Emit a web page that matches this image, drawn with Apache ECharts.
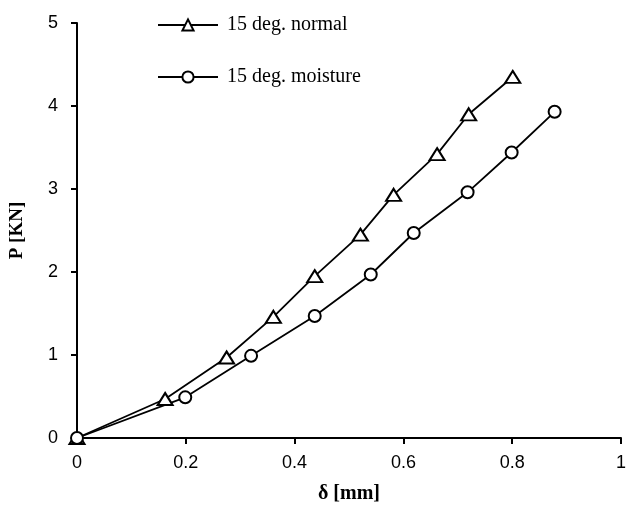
<!DOCTYPE html>
<html><head><meta charset="utf-8">
<script src="https://cdn.jsdelivr.net/npm/echarts@6/dist/echarts.min.js"></script>
<style>html,body{margin:0;padding:0;background:#fff}#c{width:629px;height:509px}</style>
</head><body><div id="c"></div>
<script>
const normalX = [0, 0.162, 0.275, 0.361, 0.437, 0.521, 0.582, 0.662, 0.720, 0.801];
const normalY = [0, 0.47, 0.97, 1.46, 1.95, 2.45, 2.93, 3.42, 3.90, 4.35];
const moistX = [0, 0.199, 0.320, 0.437, 0.540, 0.619, 0.718, 0.799, 0.878];
const moistY = [0, 0.49, 0.99, 1.47, 1.97, 2.47, 2.96, 3.44, 3.93];
const xTicks = [0, 0.2, 0.4, 0.6, 0.8, 1];
const yTicks = [0, 1, 2, 3, 4, 5];
const seriesNames = ['15 deg. normal', '15 deg. moisture'];

const pair = (xs, ys) => xs.map((x, i) => [x, ys[i]]);
const chart = echarts.init(document.getElementById('c'), null, {renderer: 'canvas'});
const axisCommon = {
  axisLine: {show: true, lineStyle: {color: '#000', width: 2}},
  axisTick: {show: true, inside: false, length: 6, lineStyle: {color: '#000', width: 2}},
  splitLine: {show: false},
  axisLabel: {color: '#000', fontFamily: 'Liberation Sans', fontSize: 18}
};
chart.setOption({
  animation: false,
  backgroundColor: '#fff',
  grid: {left: 77, right: 3, top: 23, bottom: 68, containLabel: false},
  legend: {
    orient: 'vertical', left: 152, top: 10, itemWidth: 60, itemHeight: 14, itemGap: 32,
    textStyle: {fontFamily: 'Liberation Serif', fontSize: 20, color: '#000', padding: [0, 0, 0, 4]},
    data: seriesNames
  },
  xAxis: Object.assign({}, axisCommon, {
    type: 'value', min: xTicks[0], max: xTicks[xTicks.length - 1], interval: 0.2,
    name: 'δ [mm]', nameLocation: 'middle', nameGap: 46,
    nameTextStyle: {fontFamily: 'Liberation Serif', fontWeight: 'bold', fontSize: 20, color: '#000'},
    axisLabel: Object.assign({}, axisCommon.axisLabel, {margin: 16, formatter: v => String(+v.toFixed(1))})
  }),
  yAxis: Object.assign({}, axisCommon, {
    type: 'value', min: yTicks[0], max: yTicks[yTicks.length - 1], interval: 1,
    name: 'P [KN]', nameLocation: 'middle', nameGap: 50, nameRotate: 90,
    nameTextStyle: {fontFamily: 'Liberation Serif', fontWeight: 'bold', fontSize: 19, color: '#000'},
    axisLabel: Object.assign({}, axisCommon.axisLabel, {margin: 19})
  }),
  series: [
    {
      name: seriesNames[0], type: 'line', data: pair(normalX, normalY),
      symbol: 'triangle', symbolSize: [15, 12], showAllSymbol: true,
      lineStyle: {color: '#000', width: 1.8},
      itemStyle: {color: '#fff', borderColor: '#000', borderWidth: 2}
    },
    {
      name: seriesNames[1], type: 'line', data: pair(moistX, moistY),
      symbol: 'circle', symbolSize: 12, showAllSymbol: true,
      lineStyle: {color: '#000', width: 1.8},
      itemStyle: {color: '#fff', borderColor: '#000', borderWidth: 2}
    }
  ]
});
</script></body></html>
